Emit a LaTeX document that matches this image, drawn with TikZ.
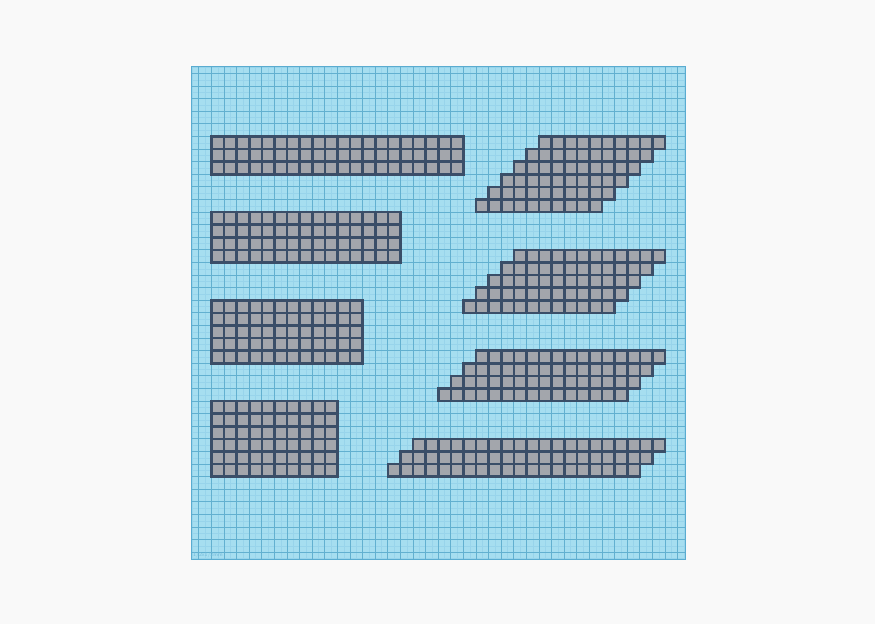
\documentclass[tikz,border=0pt]{standalone}
\definecolor{pagebg}{RGB}{249,249,249}
\definecolor{sqfill}{RGB}{166,222,240}
\definecolor{sqborder}{RGB}{90,172,208}
\definecolor{gridmajor}{RGB}{98,176,208}
\definecolor{gridminor}{RGB}{152,212,235}
\definecolor{labelcol}{RGB}{115,186,218}
\definecolor{tilefill}{RGB}{163,166,172}
\definecolor{tileedge}{RGB}{58,78,104}
\tikzset{
  tile/.style={fill=tilefill, draw=tileedge, line width=2.5pt, line join=miter},
  majorline/.style={draw=gridmajor, line width=0.9pt},
  minorline/.style={draw=gridminor, line width=0.3pt},
}
\newcommand\tileblock[5]{% #1 top row, #2 rows, #3 first col of top row, #4 cells per row, #5 shift per row
  \foreach \r in {1,...,#2}{%
    \foreach \c in {1,...,#4}{%
      \draw[tile] ({#3+\c-1-(\r-1)*#5},{#1+\r-1}) rectangle ++(1,1);
    }%
  }%
}
\begin{document}
\begin{tikzpicture}[x=1pt,y=-1pt]
\fill[pagebg] (0,0) rectangle (875,624);
\useasboundingbox (0,0) rectangle (875,624);
\fill[sqfill] (191,66) rectangle (685,560);
\begin{scope}[shift={(211.5,136.5)}, x=12.6pt, y=-12.6pt]
  \begin{scope}
    \clip (-1.627,-5.595) rectangle (37.58,33.61);
    \foreach \i in {-1.5,-0.5,...,37.5}{
      \draw[minorline] (\i,-6) -- (\i,34);
    }
    \foreach \j in {-5.5,-4.5,...,33.5}{
      \draw[minorline] (-2,\j) -- (38,\j);
    }
    \foreach \i in {-1,...,37}{
      \draw[majorline] (\i,-6) -- (\i,34);
    }
    \foreach \j in {-5,...,33}{
      \draw[majorline] (-2,\j) -- (38,\j);
    }
  \end{scope}
  \draw[sqborder, line width=1pt] (-1.627,-5.595) rectangle (37.58,33.61);
  % left blocks
  \tileblock{0}{3}{0}{20}{0}
  \tileblock{6}{4}{0}{15}{0}
  \tileblock{13}{5}{0}{12}{0}
  \tileblock{21}{6}{0}{10}{0}
  % right slanted blocks
  \tileblock{0}{6}{26}{10}{1}
  \tileblock{9}{5}{24}{12}{1}
  \tileblock{17}{4}{21}{15}{1}
  \tileblock{24}{3}{16}{20}{1}
  \node[anchor=south west, inner sep=1pt, text=labelcol, font=\sffamily\fontsize{5.5}{5.5}\selectfont] (lbl) at (-1.55,33.5) {1/2x1/2mm};
\end{scope}
\end{tikzpicture}
\end{document}
